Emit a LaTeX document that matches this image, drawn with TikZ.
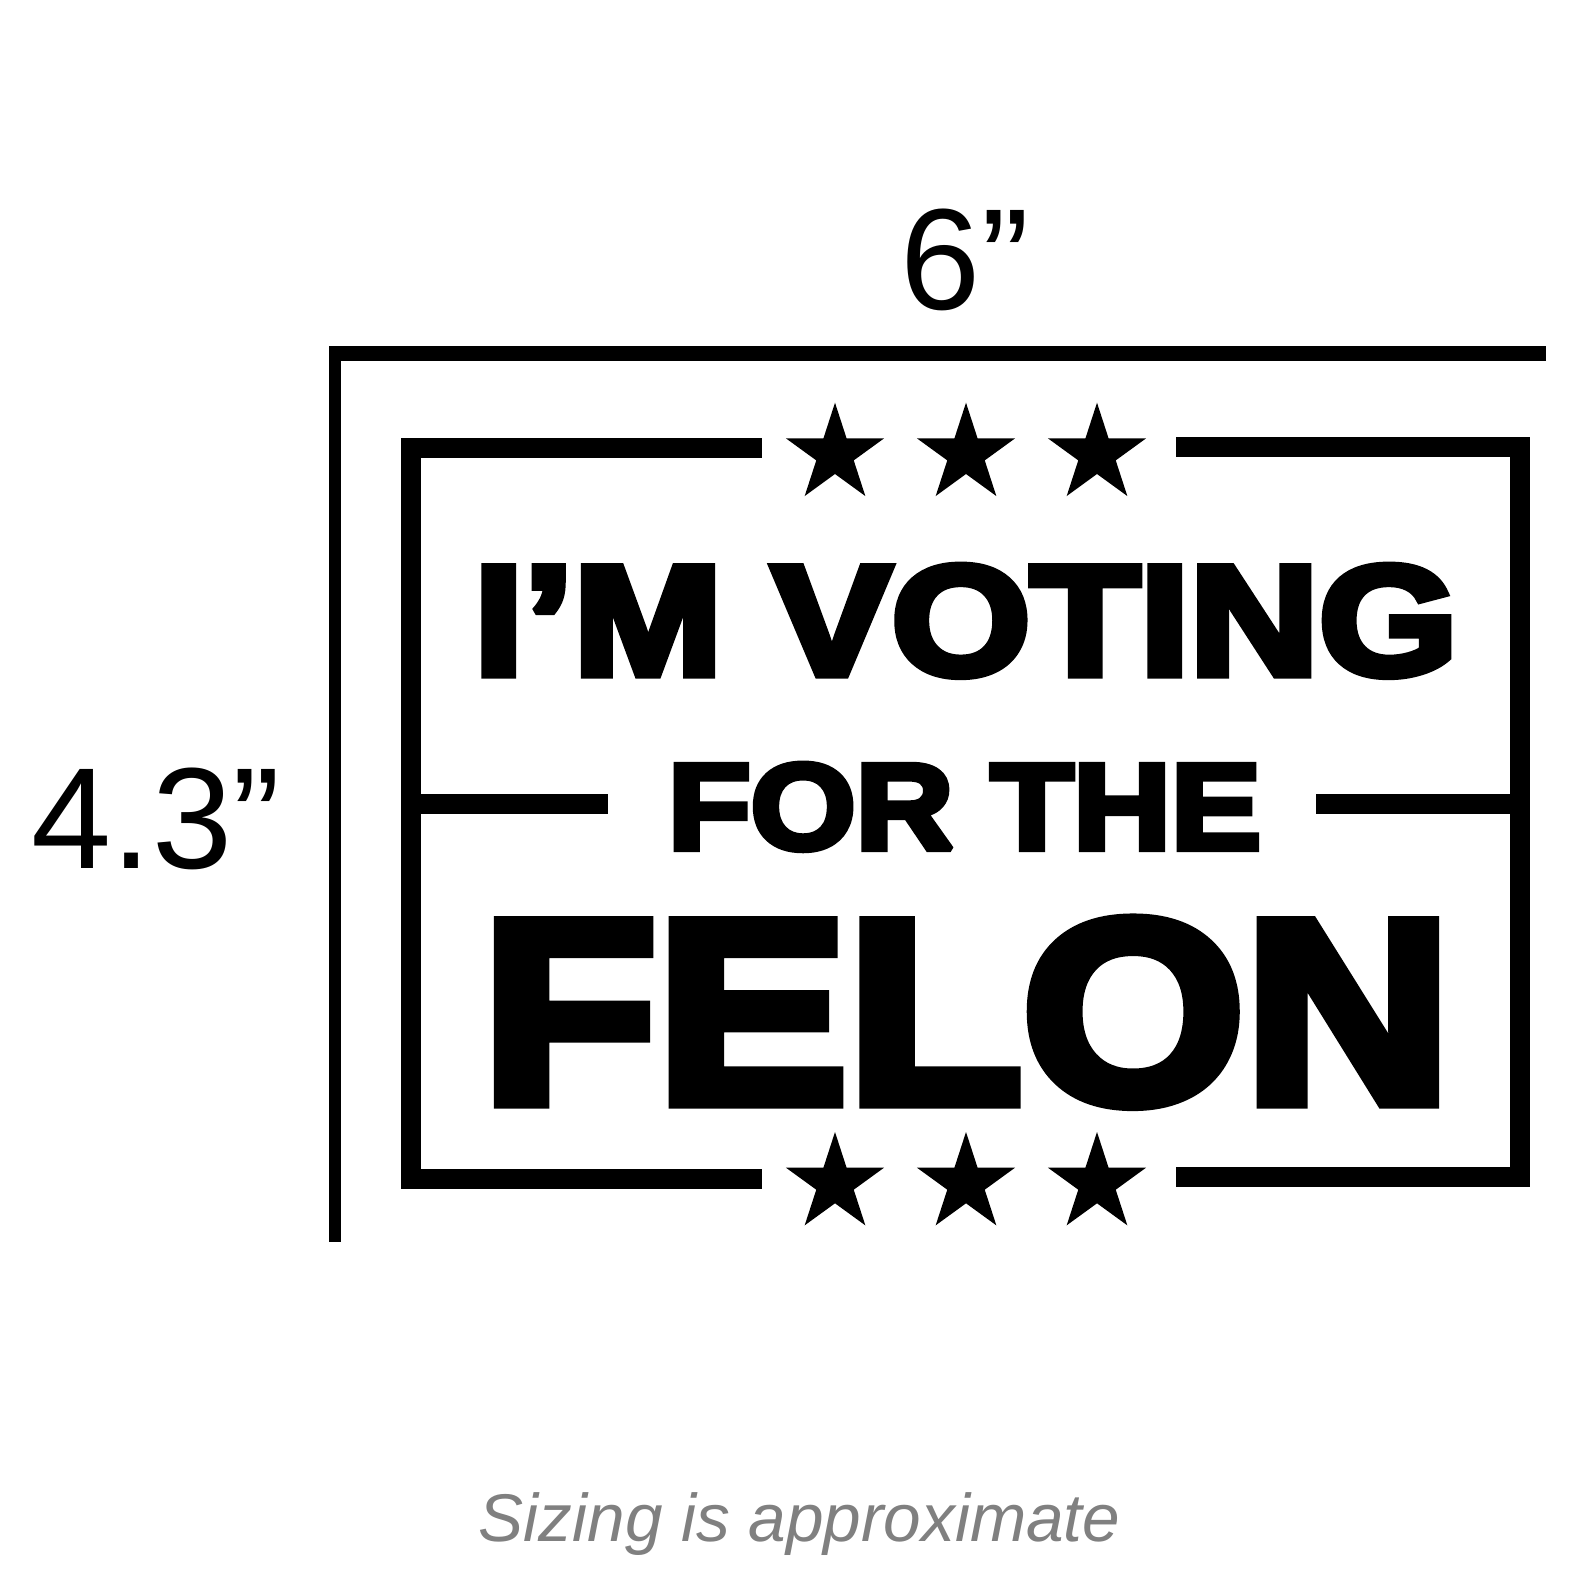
\documentclass[tikz,border=0pt]{standalone}
\usepackage{fontspec}
\usepackage{graphicx}
\newfontfamily\heavyfont{Liberation Sans Bold}[FakeBold=5]
\newfontfamily\labelfont{Liberation Sans}
\definecolor{notegray}{RGB}{128,128,128}
\newcommand\signstar[2]{\fill[black,shift={(#1,#2)}] (-90:51.6) -- (-54:19.7) -- (-18:51.6) -- (18:19.7) -- (54:51.6) -- (90:19.7) -- (126:51.6) -- (162:19.7) -- (198:51.6) -- (234:19.7) -- cycle;}
\begin{document}
\begin{tikzpicture}[x=1pt,y=-1pt,miter limit=2,
  bar/.style={fill=black},
  sign/.style={inner sep=0pt,outer sep=0pt,anchor=base,text=black},
  dimlabel/.style={inner sep=0pt,outer sep=0pt,anchor=base,text=black,font=\labelfont\fontsize{144}{144}\selectfont},
  notelabel/.style={inner sep=0pt,outer sep=0pt,anchor=base,text=notegray,font=\labelfont\itshape\fontsize{67.5}{67.5}\selectfont}]
\fill[white] (0,0) rectangle (1588,1588);
\useasboundingbox (0,0) rectangle (1588,1588);
% dimension lines
\fill[bar] (329,346) rectangle (1546,361);
\fill[bar] (329,346) rectangle (341,1242);
% left bracket
\fill[bar] (401,438) rectangle (762,458);
\fill[bar] (401,438) rectangle (421,1189);
\fill[bar] (401,1169) rectangle (762,1189);
\fill[bar] (421,794) rectangle (608,814);
% right bracket
\fill[bar] (1176,437) rectangle (1530,457);
\fill[bar] (1510,437) rectangle (1530,1187);
\fill[bar] (1176,1167) rectangle (1530,1187);
\fill[bar] (1316,794) rectangle (1510,814);
% stars
\signstar{835}{454.3}
\signstar{966}{454.3}
\signstar{1097}{454.3}
\signstar{835}{1183.6}
\signstar{966}{1183.6}
\signstar{1097}{1183.6}
% sign text
\node[sign] (title1) at (966,674.7) {\scalebox{1.144}[1]{\fontsize{156.4}{156.4}\heavyfont I’M VOTING}};
\node[sign] (title2) at (964.6,849) {\scalebox{1.105}[1]{\fontsize{122.3}{122.3}\heavyfont FOR THE}};
\node[sign] (title3) at (966.5,1102) {\scalebox{1.097}[1]{\fontsize{260.7}{260.7}\heavyfont FELON}};
% labels
\node[dimlabel] (w6) at (965,309) {6”};
\node[dimlabel] (h43) at (156,868) {4.3”};
\node[notelabel] (note) at (799.5,1541) {Sizing is approximate};
\end{tikzpicture}
\end{document}
